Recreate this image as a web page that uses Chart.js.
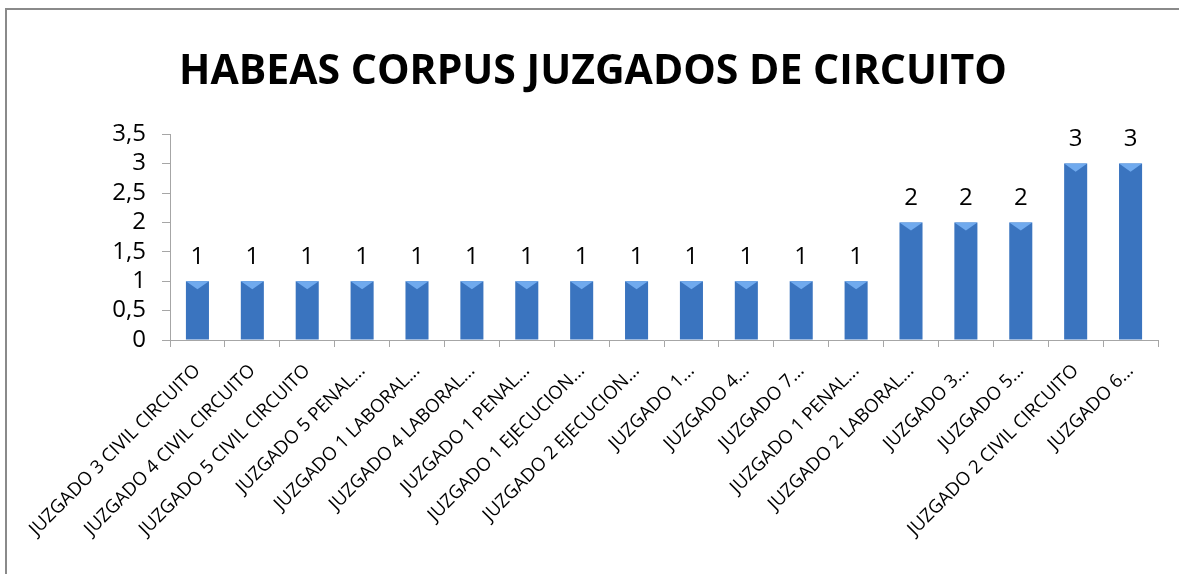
<!DOCTYPE html>
<html>
<head>
<meta charset="utf-8">
<script src="https://cdn.jsdelivr.net/npm/chart.js@4.4.0/dist/chart.umd.min.js"></script>
<style>
body { margin: 0; background: #fff; overflow: hidden; }
#marco { position: absolute; left: 5px; top: 8px; width: 1300px; height: 700px; border: 2px solid #8a8a8a; }
#grafico { position: absolute; left: 0; top: 0; }
</style>
</head>
<body>
<div id="marco"></div>
<canvas id="grafico" width="1179" height="574"></canvas>
<script>
/*
 * Datos del grafico.
 */
var juzgados = [
	"JUZGADO 3 CIVIL CIRCUITO", "JUZGADO 4 CIVIL CIRCUITO", "JUZGADO 5 CIVIL CIRCUITO",
	"JUZGADO 5 PENAL...", "JUZGADO 1 LABORAL...", "JUZGADO 4 LABORAL...",
	"JUZGADO 1 PENAL...", "JUZGADO 1 EJECUCION...", "JUZGADO 2 EJECUCION...",
	"JUZGADO 1...", "JUZGADO 4...", "JUZGADO 7...", "JUZGADO 1 PENAL...",
	"JUZGADO 2 LABORAL...", "JUZGADO 3...", "JUZGADO 5...",
	"JUZGADO 2 CIVIL CIRCUITO", "JUZGADO 6..."
];
var casos = [1, 1, 1, 1, 1, 1, 1, 1, 1, 1, 1, 1, 1, 2, 2, 2, 3, 3];
var titulo = "HABEAS CORPUS JUZGADOS DE CIRCUITO";

var fuente = "'Open Sans', 'DejaVu Sans', sans-serif";

/*
 * Relleno degradado de las barras.
 */
function rellenoBarra(ctx) {
	var el = ctx.element;
	if (!el || el.width == null) return "#3a74bf";
	var g = ctx.chart.ctx.createLinearGradient(el.x - el.width / 2, 0, el.x + el.width / 2, 0);
	g.addColorStop(0, "#1d457c");
	g.addColorStop(0.15, "#2d62a8");
	g.addColorStop(0.45, "#417fca");
	g.addColorStop(0.7, "#3670b8");
	g.addColorStop(1, "#1b4275");
	return g;
}

/*
 * Etiquetas de valor encima de cada barra y bisel superior.
 */
var etiquetas = {
	id: "etiquetas",
	afterDatasetsDraw: function(chart) {
		var c = chart.ctx;
		var meta = chart.getDatasetMeta(0);
		c.save();
		meta.data.forEach(function(bar, i) {
			var w = bar.width;
			c.fillStyle = "#70aaee";
			c.beginPath();
			c.moveTo(bar.x - w / 2, bar.y);
			c.lineTo(bar.x + w / 2, bar.y);
			c.lineTo(bar.x, bar.y + w * 0.35);
			c.closePath();
			c.fill();
			c.fillStyle = "#000";
			c.font = "24px " + fuente;
			c.textAlign = "center";
			c.textBaseline = "bottom";
			c.fillText(casos[i], bar.x, bar.y - 12);
		});
		c.restore();
	}
};

var config = {
	type: "bar",
	data: {
		labels: juzgados,
		datasets: [{
			data: casos,
			backgroundColor: rellenoBarra,
			barPercentage: 0.42,
			categoryPercentage: 1
		}]
	},
	options: {
		responsive: false,
		animation: false,
		layout: { padding: { left: 28, right: 21, top: 0, bottom: 0 } },
		plugins: {
			legend: { display: false },
			tooltip: { enabled: false },
			title: {
				display: true,
				text: titulo,
				color: "#000",
				font: { family: fuente, size: 41, weight: "bold" },
				padding: { top: 48, bottom: 37 }
			}
		},
		scales: {
			x: {
				grid: { display: true, drawOnChartArea: false, offset: true, color: "#a6a6a6", tickLength: 7 },
				border: { color: "#a6a6a6" },
				ticks: {
					color: "#000",
					autoSkip: false,
					minRotation: 45,
					maxRotation: 45,
					padding: 13,
					font: { family: fuente, size: 18.5 }
				},
				afterFit: function(scale) { scale.height = 234; }
			},
			y: {
				min: 0,
				max: 3.5,
				grid: { display: true, drawOnChartArea: false, color: "#a6a6a6", tickLength: 8 },
				border: { color: "#a6a6a6" },
				ticks: {
					stepSize: 0.5,
					autoSkip: false,
					color: "#000",
					padding: 16,
					font: { family: fuente, size: 24 },
					callback: function(v) { return String(v).replace(".", ","); }
				},
				afterFit: function(scale) { scale.width = 142; }
			}
		}
	},
	plugins: [etiquetas]
};

window.onload = function() {
	var ctx = document.getElementById("grafico").getContext("2d");
	window.miGrafico = new Chart(ctx, config);
};
</script>
</body>
</html>
